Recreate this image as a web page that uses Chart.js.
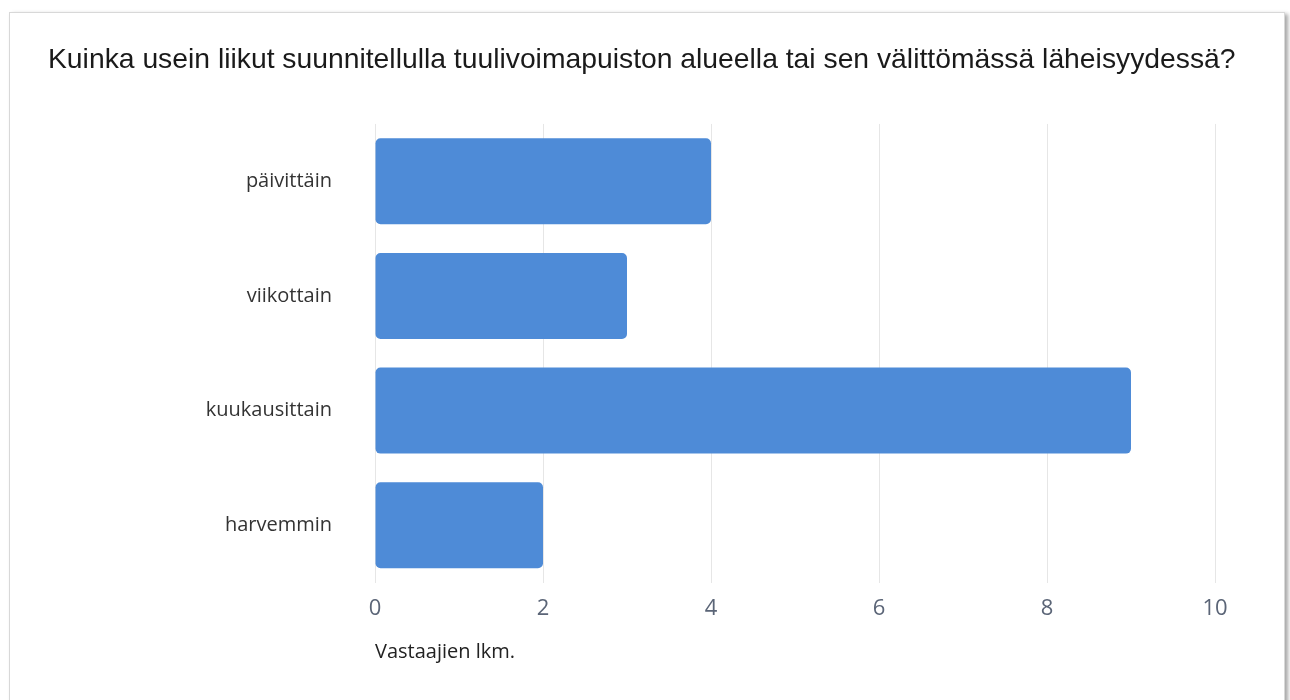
<!DOCTYPE html>
<html>
<head>
<meta charset="utf-8">
<script src="https://cdn.jsdelivr.net/npm/chart.js@4.4.1/dist/chart.umd.min.js"></script>
<style>
  html, body { margin: 0; padding: 0; background: #ffffff; width: 1290px; height: 700px; overflow: hidden; }
  #card { position: absolute; left: 9px; top: 12px; width: 1274px; height: 720px; background: #fff;
          border: 1px solid #d8d8d8; box-shadow: 3px 2px 4px rgba(0,0,0,0.35); }
  #wrap { position: absolute; left: 0; top: 0; width: 1290px; height: 700px; }
</style>
</head>
<body>
<div id="card"></div>
<div id="wrap"><canvas id="c" width="1290" height="700"></canvas></div>
<script>
const chartTitle = "Kuinka usein liikut suunnitellulla tuulivoimapuiston alueella tai sen välittömässä läheisyydessä?";
const categories = ["päivittäin", "viikottain", "kuukausittain", "harvemmin"];
const values = [4, 3, 9, 2];
const xAxisTitle = "Vastaajien lkm.";
const xMax = 10;
const xStep = 2;

new Chart(document.getElementById("c"), {
  type: "bar",
  data: {
    labels: categories,
    datasets: [{
      data: values,
      backgroundColor: "#4e8bd7",
      borderRadius: 5,
      borderSkipped: false,
      categoryPercentage: 0.75,
      barPercentage: 1.0
    }]
  },
  options: {
    indexAxis: "y",
    responsive: false,
    animation: false,
    layout: { padding: { left: 48, right: 40, top: 0, bottom: 36 } },
    plugins: {
      legend: { display: false },
      tooltip: { enabled: false },
      title: {
        display: true,
        text: chartTitle,
        align: "start",
        color: "#1a1a1a",
        font: { family: "Liberation Sans", size: 28.3, weight: "normal" },
        padding: { top: 43, bottom: 47 }
      }
    },
    scales: {
      x: {
        min: 0,
        max: xMax,
        ticks: {
          stepSize: xStep,
          color: "#5b6577",
          font: { family: "Open Sans", size: 22 },
          padding: 13
        },
        grid: { color: "#e6e6e6", drawTicks: false },
        border: { display: false },
        title: {
          display: true,
          text: xAxisTitle,
          align: "start",
          color: "#222",
          font: { family: "Open Sans", size: 20 },
          padding: { top: 5, bottom: 0 }
        }
      },
      y: {
        ticks: {
          color: "#333",
          font: { family: "Open Sans", size: 20 },
          padding: 43
        },
        grid: { display: false, drawTicks: false },
        border: { display: false },
        afterFit: (scale) => { scale.width = 327; }
      },
      yRight: {
        type: "category",
        position: "right",
        labels: categories,
        ticks: { display: false },
        grid: { display: false, drawTicks: false },
        border: { display: false },
        afterFit: (scale) => { scale.width = 35; }
      }
    }
  }
});
</script>
</body>
</html>
